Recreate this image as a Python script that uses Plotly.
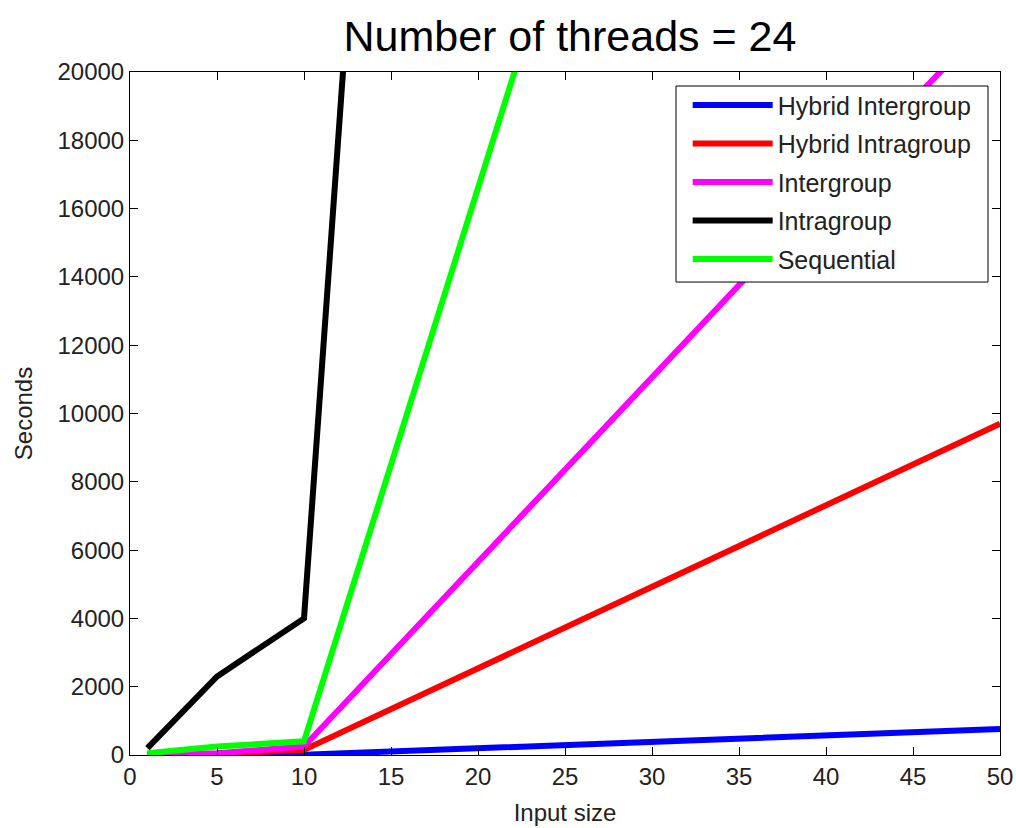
import plotly.graph_objects as go

input_size = [1, 5, 10, 50]
hybrid_intergroup = [0.5, 3, 10, 760]
hybrid_intragroup = [2, 30, 150, 9700]
intergroup = [5, 50, 250, 21860]
intragroup = [200, 2300, 4000, 289700]
sequential = [50, 250, 400, 65200]

x_ticks = list(range(0, 55, 5))
y_ticks = list(range(0, 22000, 2000))
y_tick_labels = [str(v) for v in y_ticks]

series = [
    ("Hybrid Intergroup", hybrid_intergroup, "#0000FF"),
    ("Hybrid Intragroup", hybrid_intragroup, "#FF0000"),
    ("Intergroup", intergroup, "#FF00FF"),
    ("Intragroup", intragroup, "#000000"),
    ("Sequential", sequential, "#00FF00"),
]

fig = go.Figure()
for name, vals, col in series:
    fig.add_trace(go.Scatter(x=input_size, y=vals, mode="lines", name=name,
                             legendgroup=name,
                             line=dict(color=col, width=6)))

font = "Liberation Sans, Arial, sans-serif"
axis_common = dict(showgrid=False, zeroline=False, showline=True, linecolor="black",
                   linewidth=1, mirror="ticks", ticks="inside", ticklen=8,
                   tickcolor="black", tickfont=dict(family=font, size=24, color="#222"))

# legend frame drawn as a shape
fig.add_shape(type="rect", xref="paper", yref="paper",
              x0=0.6276, x1=0.9862, y0=0.6925, y1=0.9795,
              line=dict(color="black", width=1), fillcolor="white", layer="above")

fig.update_layout(
    width=1016, height=828,
    margin=dict(l=130, r=16, t=72, b=73, autoexpand=False),
    paper_bgcolor="white", plot_bgcolor="white",
    title=dict(text="Number of threads = 24", x=0.561, xanchor="center", y=0.957, yanchor="middle",
               font=dict(family=font, size=43, color="black")),
    xaxis=dict(range=[0, 50], tickvals=x_ticks, ticktext=[str(v) for v in x_ticks],
               title=dict(text="Input size", font=dict(family=font, size=24, color="#222"), standoff=15),
               **axis_common),
    yaxis=dict(range=[0, 20000], tickvals=y_ticks, ticktext=y_tick_labels,
               title=dict(text="Seconds", font=dict(family=font, size=24, color="#222"), standoff=18),
               **axis_common),
    legend=dict(x=0.641, xanchor="left", y=0.985, yanchor="top",
                bgcolor="rgba(0,0,0,0)", borderwidth=0,
                font=dict(family=font, size=25, color="#222"),
                itemwidth=80, tracegroupgap=3),
    showlegend=True,
)

fig.write_html("out.html")
